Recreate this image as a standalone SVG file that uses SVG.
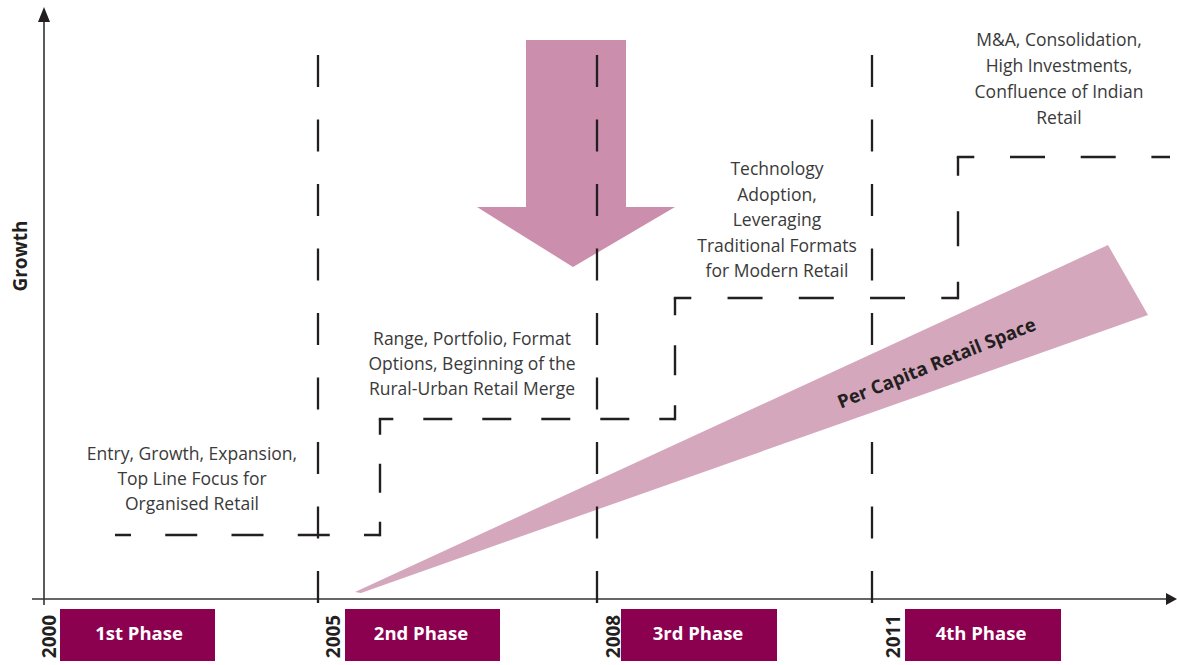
<svg xmlns="http://www.w3.org/2000/svg" width="1177" height="665" viewBox="0 0 1177 665">
<style>
.lbl{font-family:"Open Sans","Liberation Sans",sans-serif;font-size:17.5px;fill:#3a3a3a;text-anchor:middle}
.ph{font-family:"Open Sans","Liberation Sans",sans-serif;font-size:18.5px;font-weight:bold;fill:#fff;text-anchor:middle}
.yr{font-family:"Open Sans","Liberation Sans",sans-serif;font-size:19px;font-weight:bold;fill:#231f20;text-anchor:middle}
.box{fill:#8c0050}
.vd{stroke:#231f20;stroke-width:2.3;fill:none;stroke-dasharray:32 32.5}
.st{stroke:#231f20;stroke-width:2.4;fill:none;stroke-linecap:butt}
.ax{stroke:#333;stroke-width:1.6;fill:none}
</style>
<rect width="1177" height="665" fill="#fff"/>

<g id="axes">
<line class="ax" x1="44" y1="605" x2="44" y2="18"/>
<polygon points="44,7 38,22 50,22" fill="#231f20"/>
<line class="ax" x1="32" y1="599" x2="1168" y2="599"/>
<polygon points="1177,599 1166,593 1166,605" fill="#231f20"/>
<text class="yr" transform="translate(26.5,256) rotate(-90)">Growth</text>
</g>

<g id="down-arrow">
<polygon points="526,40 626,40 626,207 675,207 573,267 477,207 526,207" fill="#cb8ead"/>
</g>

<g id="connectors">
<line id="line2011" class="vd" x1="872" y1="55" x2="872" y2="604"/>
</g>

<g id="wedge">
<polygon points="355,592 1108,245 1148,315 361,593" fill="#d5a7bd"/>
<text transform="translate(939,369) rotate(-22)" font-family="'Open Sans','Liberation Sans',sans-serif" font-size="18.5" font-weight="bold" fill="#231f20" text-anchor="middle">Per Capita Retail Space</text>
</g>

<g id="connectors-front">
<line class="vd" x1="318" y1="55" x2="318" y2="604"/>
<line class="vd" x1="597" y1="55" x2="597" y2="604"/>
<line class="st" x1="115" y1="535" x2="380" y2="535" stroke-dasharray="32 34.25" stroke-dashoffset="16"/>
<line class="st" x1="380" y1="536.2" x2="380" y2="419" stroke-dasharray="29 29" stroke-dashoffset="14.5"/>
<line class="st" x1="378.8" y1="419" x2="675" y2="419" stroke-dasharray="29 30" stroke-dashoffset="14.5"/>
<line class="st" x1="675" y1="420.2" x2="675" y2="298" stroke-dasharray="30 30" stroke-dashoffset="15"/>
<line class="st" x1="673.8" y1="298" x2="958" y2="298" stroke-dasharray="35 36.25" stroke-dashoffset="17.5"/>
<line class="st" x1="958" y1="299.2" x2="958" y2="157" stroke-dasharray="35 35.5" stroke-dashoffset="17.5"/>
<line class="st" x1="956.8" y1="157" x2="1170" y2="157" stroke-dasharray="35 35.7" stroke-dashoffset="17.5"/>
</g>

<g id="phase1">
<rect class="box" x="60" y="609" width="155" height="52"/>
<text class="ph" x="139" y="640">1st Phase</text>
<text class="yr" transform="translate(55.5,636.5) rotate(-90)">2000</text>
</g>
<g id="phase2">
<rect class="box" x="345" y="609" width="155" height="52"/>
<text class="ph" x="421" y="640">2nd Phase</text>
<text class="yr" transform="translate(340,636.5) rotate(-90)">2005</text>
</g>
<g id="phase3">
<rect class="box" x="621" y="609" width="156" height="52"/>
<text class="ph" x="698" y="640">3rd Phase</text>
<text class="yr" transform="translate(620,636.5) rotate(-90)">2008</text>
</g>
<g id="phase4">
<rect class="box" x="905" y="609" width="156" height="52"/>
<text class="ph" x="981" y="640">4th Phase</text>
<text class="yr" transform="translate(900,636.5) rotate(-90)">2011</text>
</g>

<g id="label1">
<text class="lbl" x="192" y="460">Entry, Growth, Expansion,</text>
<text class="lbl" x="192" y="485">Top Line Focus for</text>
<text class="lbl" x="192" y="510">Organised Retail</text>
</g>
<g id="label2">
<text class="lbl" x="472" y="345">Range, Portfolio, Format</text>
<text class="lbl" x="472" y="370">Options, Beginning of the</text>
<text class="lbl" x="472" y="395">Rural-Urban Retail Merge</text>
</g>
<g id="label3">
<text class="lbl" x="777" y="175">Technology</text>
<text class="lbl" x="777" y="200.5">Adoption,</text>
<text class="lbl" x="777" y="226">Leveraging</text>
<text class="lbl" x="777" y="251.5">Traditional Formats</text>
<text class="lbl" x="777" y="277">for Modern Retail</text>
</g>
<g id="label4">
<text class="lbl" x="1059" y="46">M&amp;A, Consolidation,</text>
<text class="lbl" x="1059" y="72">High Investments,</text>
<text class="lbl" x="1059" y="98">Confluence of Indian</text>
<text class="lbl" x="1059" y="124">Retail</text>
</g>
</svg>
